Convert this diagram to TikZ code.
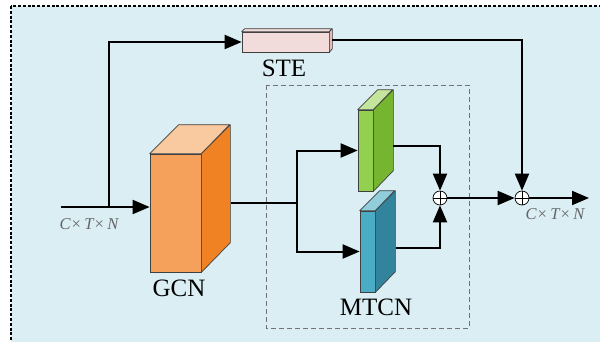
\documentclass[tikz,border=0pt]{standalone}
\usepackage{fontspec}
\setmainfont{Liberation Serif}
\usetikzlibrary{arrows.meta,calc}
\definecolor{bgblue}{HTML}{DAEEF3}
\definecolor{orfront}{HTML}{F6A15B}
\definecolor{ortop}{HTML}{F9C9A0}
\definecolor{orside}{HTML}{F08224}
\definecolor{pkfront}{HTML}{F2DCDB}
\definecolor{pkside}{HTML}{E6B9B8}
\definecolor{grfront}{HTML}{92D050}
\definecolor{grtop}{HTML}{C4E59C}
\definecolor{grside}{HTML}{76B530}
\definecolor{blfront}{HTML}{4BACC6}
\definecolor{bltop}{HTML}{92CDDC}
\definecolor{blside}{HTML}{31849B}
\tikzset{
  face/.style={draw=black!75, line width=0.7pt},
  conn/.style={line width=2pt, draw=black},
  arr/.style={conn, -{Triangle[length=17pt,width=14pt]}},
  lbl/.style={font=\fontsize{25}{28}\selectfont, inner sep=0pt},
  dimlbl/.style={font=\fontsize{16.5}{18}\selectfont\itshape, text=black!60, inner sep=0pt},
  plus/.style={circle, draw=black, line width=0.7pt, fill=white, minimum size=14pt, inner sep=0pt,
    path picture={\draw[line width=0.7pt] (path picture bounding box.north) -- (path picture bounding box.south)
      (path picture bounding box.west) -- (path picture bounding box.east);}},
}
% cuboid: name, cx, cy, w, h, depth, front, top, side
\newcommand{\mycuboid}[9]{%
  \node[face, fill=#7, minimum width=#4pt, minimum height=#5pt, inner sep=0pt] (#1) at (#2,#3) {};
  \draw[face, fill=#8, line join=round] (#1.north west) -- ++(#6pt,#6pt) -- ++(#4pt,0) -- (#1.north east) -- cycle;
  \draw[face, fill=#9, line join=round] (#1.north east) -- ++(#6pt,#6pt) -- ++(0,-#5pt) -- (#1.south east) -- cycle;
}
\begin{document}
\begin{tikzpicture}[x=1pt,y=-1pt]
\useasboundingbox (0,0) rectangle (600,341);
\begin{scope}
\clip (0,0) rectangle (600,341);
\draw[fill=bgblue, line width=1.6pt, dash pattern=on 3pt off 1.8pt] (11,6) rectangle (615,355);
\end{scope}
\draw[draw=black!55, line width=1pt, dash pattern=on 5pt off 3pt] (266,85) rectangle (469,328);
% blocks
\mycuboid{ste}{285.5}{42}{87}{20}{3}{pkfront}{pkfront}{pkside}
\mycuboid{gcn}{175.5}{213}{51}{118}{29}{orfront}{ortop}{orside}
\mycuboid{green}{365.5}{150.5}{15}{81}{20}{grfront}{grtop}{grside}
\mycuboid{blue}{367.5}{251.5}{15}{81}{20}{blfront}{bltop}{blside}
% labels
\node[lbl] (stel) at (284,68) {STE};
\node[lbl] (gcnl) at (179,288) {GCN};
\node[lbl] (mtcnl) at (376,307) {MTCN};
\node[dimlbl] (inl) at (89,224) {C×\,T×\,N};
\node[dimlbl] (outl) at (555,214) {C×\,T×\,N};
% sum nodes
\node[plus] (p1) at (440,198) {};
\node[plus] (p2) at (522,198) {};
% coordinates
\coordinate (in) at (61,207);
\coordinate (br) at (109,207);
\coordinate (gout) at (231,203);
\coordinate (split) at (297,203);
\coordinate (grout) at (393,146);
\coordinate (blout) at (396,248);
\coordinate (steout) at (332,40);
\coordinate (out) at (589,198);
% connectors
\draw[arr] (in) -- (in -| gcn.west);
\draw[arr] (br) |- (ste.west);
\draw[arr] (steout) -| (p2.north);
\draw[conn] (gout) -- (split);
\draw[arr] (split) |- (green.west);
\draw[arr] (split) |- (blue.west);
\draw[arr] (grout) -| (p1.north);
\draw[arr] (blout) -| (p1.south);
\draw[arr] (p1) -- (p2);
\draw[arr] (p2) -- (out);
\end{tikzpicture}
\end{document}
